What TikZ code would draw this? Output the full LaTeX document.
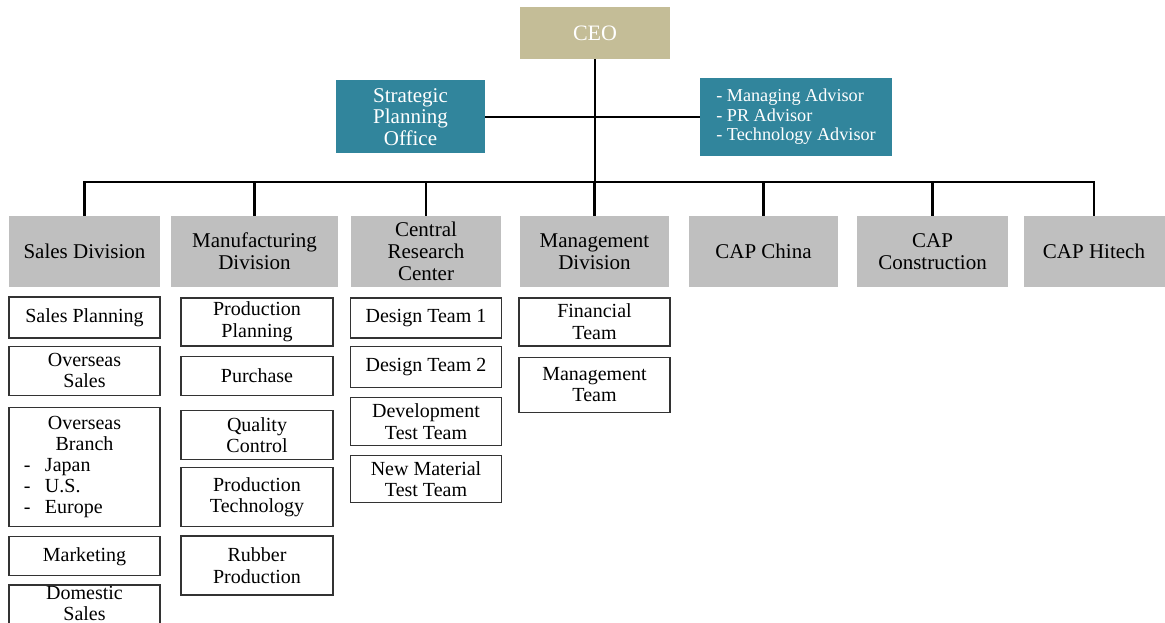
\documentclass[tikz,border=0pt]{standalone}
\usepackage{fontspec}
\setmainfont{Liberation Serif}
\usepackage{xcolor}
\usepackage{tikz}
\usetikzlibrary{positioning}
\definecolor{ceotan}{RGB}{196,189,151}
\definecolor{officeteal}{RGB}{49,133,156}
\definecolor{divgray}{RGB}{191,191,191}
\newcommand{\branch}[1]{\makebox[151pt][l]{\hspace{15pt}\makebox[21pt][l]{-}#1}}

\begin{document}
\begin{tikzpicture}[
    x=1pt, y=-1pt,
    head/.style={rectangle, fill=ceotan, text=white, inner sep=0pt, minimum width=150pt, minimum height=52pt, font=\fontsize{22}{24}\selectfont},
    office/.style={rectangle, fill=officeteal, text=white, inner sep=0pt, font=\fontsize{21}{21.5}\selectfont},
    division/.style={rectangle, fill=divgray, align=center, inner sep=0pt, minimum height=71pt, font=\fontsize{21}{22}\selectfont},
    team/.style={rectangle, draw=black!80, line width=1.3pt, fill=white, align=center, inner sep=0pt, minimum width=151pt, font=\fontsize{20}{21.5}\selectfont},
    link/.style={draw=black, line width=2.8pt}
]
\fill[white] (0,0) rectangle (1165,623);
\useasboundingbox (0,0) rectangle (1165,623);

\node[head] (ceo) at (595,33) {CEO};
\node[office, align=center, minimum width=149pt, minimum height=73pt] (spo) at (410.5,117) {Strategic\\Planning\\Office};
\node[office, align=left, minimum width=192pt, minimum height=78pt, font=\fontsize{18.2}{19.5}\selectfont] (adv) at (796,117) {- Managing Advisor\\- PR Advisor\\- Technology Advisor};

\node[division, minimum width=151pt] (sales) at (84.5,251.5) {Sales Division};
\node[division, minimum width=167pt] (manuf) at (254.5,251.5) {Manufacturing\\Division};
\node[division, minimum width=150pt] (crc) at (426,251.5) {Central\\Research\\Center};
\node[division, minimum width=149pt] (mgmt) at (594.5,251.5) {Management\\Division};
\node[division, minimum width=149pt] (china) at (763.5,251.5) {CAP China};
\node[division, minimum width=151pt] (constr) at (932.5,251.5) {CAP\\Construction};
\node[division, minimum width=141pt] (hitech) at (1094,251.5) {CAP Hitech};

\node[team, minimum height=41pt, below=9pt of sales] (splan) {Sales Planning};
\node[team, minimum height=49pt, below=7pt of splan] (ossales) {Overseas\\Sales};
\node[team, minimum height=119pt, below=11pt of ossales, text width=151pt, font=\fontsize{20}{20.8}\selectfont] (osbranch) {Overseas\\Branch\\\branch{Japan}\\\branch{U.S.}\\\branch{Europe}};
\node[team, minimum height=39pt, below=9pt of osbranch] (mkt) {Marketing};
\node[team, inner ysep=1pt, text depth=14pt, below=8pt of mkt, font=\fontsize{20}{21}\selectfont] (domestic) {Domestic\\Sales};

\node[team, minimum width=152pt, minimum height=48pt, below=10pt of manuf, xshift=2.5pt] (pplan) {Production\\Planning};
\node[team, minimum width=152pt, minimum height=39pt, below=9pt of pplan] (purchase) {Purchase};
\node[team, minimum width=152pt, minimum height=49pt, below=14pt of purchase] (quality) {Quality\\Control};
\node[team, minimum width=152pt, minimum height=59pt, below=7pt of quality] (ptech) {Production\\Technology};
\node[team, minimum width=152pt, minimum height=59pt, below=8pt of ptech] (rubber) {Rubber\\Production};

\node[team, minimum height=40pt, below=10pt of crc] (design1) {Design Team 1};
\node[team, minimum height=41pt, below=7pt of design1] (design2) {Design Team 2};
\node[team, minimum height=48pt, below=9pt of design2] (devtest) {Development\\Test Team};
\node[team, minimum height=47pt, below=9pt of devtest] (newmat) {New Material\\Test Team};

\node[team, minimum height=48pt, below=10pt of mgmt] (finance) {Financial\\Team};
\node[team, minimum height=55pt, below=10pt of finance] (mteam) {Management\\Team};

\coordinate (bus) at (595,182);
\draw[link] (ceo.south) -- (bus);
\draw[link] (spo.east) -- (adv.west);
\draw[link] (sales.north) -- (sales.north |- bus) -- (hitech.north |- bus) -- (hitech.north);
\foreach \d in {manuf,crc,mgmt,china,constr}
    \draw[link] (\d.north |- bus) -- (\d.north);
\end{tikzpicture}
\end{document}
